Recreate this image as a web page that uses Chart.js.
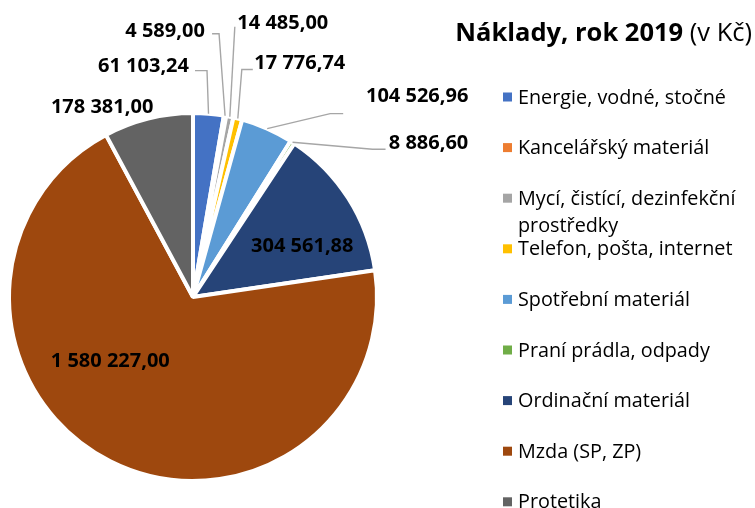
<!DOCTYPE html>
<html>
<head>
<meta charset="utf-8">
<script src="https://cdn.jsdelivr.net/npm/chart.js@4/dist/chart.umd.min.js"></script>
<style>
	html, body { margin: 0; padding: 0; background: #fff; }
	canvas { display: block; }
</style>
</head>
<body>
<canvas id="costChart" width="755" height="508"></canvas>
<script>
const categories = [
	'Energie, vodné, stočné',
	'Kancelářský materiál',
	'Mycí, čistící, dezinfekční prostředky',
	'Telefon, pošta, internet',
	'Spotřební materiál',
	'Praní prádla, odpady',
	'Ordinační materiál',
	'Mzda (SP, ZP)',
	'Protetika'
];
const costs = [61103.24, 4589.00, 14485.00, 17776.74, 104526.96, 8886.60, 304561.88, 1580227.00, 178381.00];
const sliceColors = ['#4472C4', '#ED7D31', '#A5A5A5', '#FFC000', '#5B9BD5', '#70AD47', '#264478', '#9E480E', '#636363'];

// where each value label sits, relative to the middle of the slice's outer edge
const labelPlacement = [
	{ dx: -65, dy: -49, leader: [[-1.5, -43], [-13.5, -43]] },
	{ dx: -60, dy: -86, leader: [[-6, -82], [-13, -82]] },
	{ dx: 53, dy: -95, leader: [[5, -90]] },
	{ dx: 62, dy: -57, leader: [[4, -49], [15, -49]] },
	{ dx: 150, dy: -34, leader: [[63, -15], [76, -15]] },
	{ dx: 136, dy: 0, leader: [[80, 7], [93, 7]] },
	{ dx: -46, dy: 47 },
	{ dx: 0, dy: -101 },
	{ dx: -46, dy: -13 }
];

const FONT = 'Open Sans';

function formatCz(v) {
	const parts = v.toFixed(2).split('.');
	return parts[0].replace(/\B(?=(\d{3})+(?!\d))/g, ' ') + ',' + parts[1];
}

function wrapText(ctx, text, maxWidth) {
	const words = text.split(' ');
	const lines = [];
	let line = '';
	words.forEach(w => {
		const test = line ? line + ' ' + w : w;
		if (ctx.measureText(test).width > maxWidth && line) {
			lines.push(line);
			line = w;
		} else {
			line = test;
		}
	});
	lines.push(line);
	return lines;
}

const decorations = {
	id: 'decorations',
	afterDraw(chart) {
		const ctx = chart.ctx;
		const meta = chart.getDatasetMeta(0);
		ctx.save();

		// value labels + leader lines
		meta.data.forEach((arc, i) => {
			const p = labelPlacement[i];
			const mid = (arc.startAngle + arc.endAngle) / 2;
			const ax = arc.x + Math.cos(mid) * arc.outerRadius;
			const ay = arc.y + Math.sin(mid) * arc.outerRadius;
			if (p.leader) {
				ctx.strokeStyle = '#A6A6A6';
				ctx.lineWidth = 1.4;
				ctx.beginPath();
				ctx.moveTo(ax, ay);
				p.leader.forEach(pt => ctx.lineTo(ax + pt[0], ay + pt[1]));
				ctx.stroke();
			}
			ctx.fillStyle = '#000';
			ctx.font = 'bold 20px "' + FONT + '"';
			ctx.textAlign = 'center';
			ctx.textBaseline = 'alphabetic';
			ctx.fillText(formatCz(costs[i]), ax + p.dx, ay + p.dy + 7);
		});

		// title
		ctx.textBaseline = 'alphabetic';
		ctx.textAlign = 'left';
		ctx.font = '25.5px "' + FONT + '"';
		const tail = ' (v Kč)';
		const tailW = ctx.measureText(tail).width;
		ctx.font = 'bold 25.5px "' + FONT + '"';
		const head = 'Náklady, rok 2019';
		const headW = ctx.measureText(head).width;
		const tx = 752 - tailW - headW;
		ctx.fillStyle = '#000';
		ctx.fillText(head, tx, 41);
		ctx.font = '25.5px "' + FONT + '"';
		ctx.fillText(tail, tx + headW, 41);

		// legend
		ctx.font = '19.8px "' + FONT + '"';
		ctx.textBaseline = 'middle';
		categories.forEach((name, i) => {
			const y = 97 + i * 50.6;
			ctx.fillStyle = sliceColors[i];
			ctx.fillRect(503, y - 4.5, 9, 9);
			ctx.fillStyle = '#000';
			const lines = wrapText(ctx, name, 236);
			lines.forEach((ln, k) => ctx.fillText(ln, 518, y + 1 + k * 27));
		});

		ctx.restore();
	}
};

new Chart(document.getElementById('costChart'), {
	type: 'pie',
	data: {
		labels: categories,
		datasets: [{
			data: costs,
			backgroundColor: sliceColors,
			borderColor: '#ffffff',
			borderWidth: 4,
		}]
	},
	options: {
		responsive: false,
		animation: false,
		layout: {
			padding: {
				left: 7,
				top: 111,
				right: 376,
				bottom: 25
			}
		},
		plugins: {
			legend: { display: false },
			tooltip: { enabled: false },
			title: { display: false }
		}
	},
	plugins: [decorations]
});
</script>
</body>
</html>
